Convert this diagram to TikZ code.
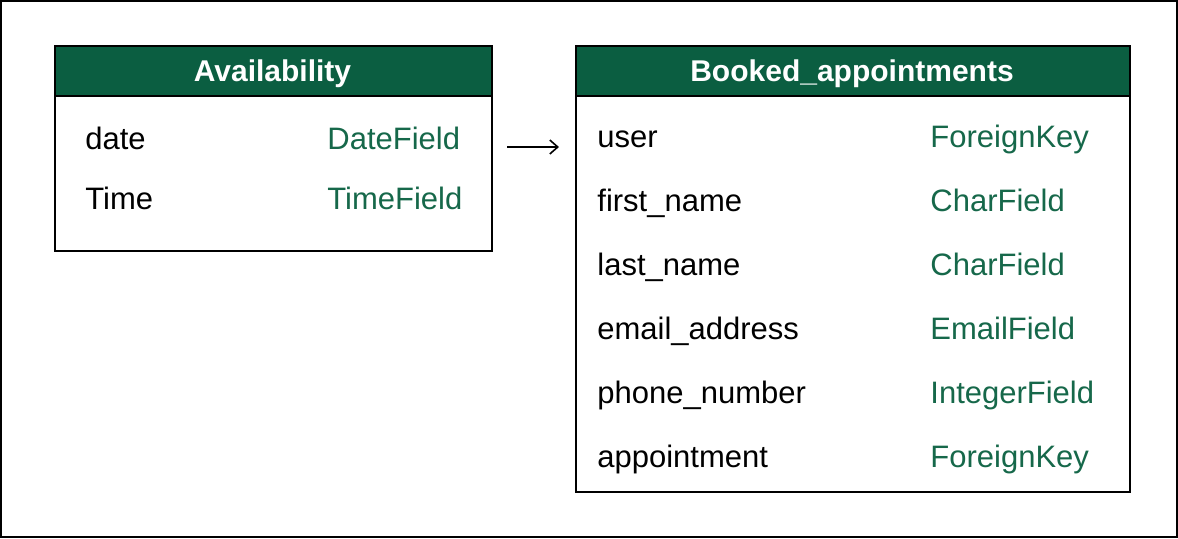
\documentclass[tikz,border=0pt]{standalone}
\usepackage{fontspec}
\setmainfont{Liberation Sans}
\usepackage{xcolor}
\usetikzlibrary{positioning, fit, arrows.meta}

\definecolor{headgreen}{HTML}{0B5E41}
\definecolor{typegreen}{HTML}{16684A}

\tikzset{
    tablebox/.style={draw, line width=1pt, anchor=north west, inner sep=0pt},
    tablehead/.style={draw, line width=1pt, fill=headgreen, anchor=north west, inner sep=0pt, minimum height=25pt},
    headtext/.style={text=white, font=\bfseries\fontsize{15}{18}\selectfont, anchor=base, inner sep=0pt},
    fieldname/.style={font=\fontsize{15.5}{18}\selectfont, anchor=base west, inner sep=0pt},
    fieldtype/.style={text=typegreen, font=\fontsize{15.5}{18}\selectfont, anchor=base west, inner sep=0pt}
}

\begin{document}
\begin{tikzpicture}[x=0.5pt, y=-0.5pt, >={Straight Barb[length=4pt, width=7pt]}]
    \useasboundingbox (0,0) rectangle (1178,538);
    % Outer frame
    \draw[line width=1.2pt] (1,1) rectangle (1177,537);

    % Availability table
    \node[tablebox, minimum width=218.5pt, minimum height=102.5pt] (availBox) at (54,45) {};
    \node[tablehead, minimum width=218.5pt] (availHead) at (54,45) {};
    \node[headtext] (availTitle) at (272.5,81) {Availability};
    \node[fieldname] (availDate) at (85,149) {date};
    \node[fieldtype] (availDateT) at (327,149) {DateField};
    \node[fieldname] (availTime) at (85,209) {Time};
    \node[fieldtype] (availTimeT) at (327,209) {TimeField};

    % Booked_appointments table
    \node[tablebox, minimum width=277pt, minimum height=223pt] (bookBox) at (575,45) {};
    \node[tablehead, minimum width=277pt] (bookHead) at (575,45) {};
    \node[headtext] (bookTitle) at (852,81) {Booked\_appointments};
    \node[fieldname] (bookUser) at (597,147) {user};
    \node[fieldtype] (bookUserT) at (930,147) {ForeignKey};
    \node[fieldname] (bookFirst) at (597,211) {first\_name};
    \node[fieldtype] (bookFirstT) at (930,211) {CharField};
    \node[fieldname] (bookLast) at (597,275) {last\_name};
    \node[fieldtype] (bookLastT) at (930,275) {CharField};
    \node[fieldname] (bookEmail) at (597,339) {email\_address};
    \node[fieldtype] (bookEmailT) at (930,339) {EmailField};
    \node[fieldname] (bookPhone) at (597,403) {phone\_number};
    \node[fieldtype] (bookPhoneT) at (930,403) {IntegerField};
    \node[fieldname] (bookAppt) at (597,467) {appointment};
    \node[fieldtype] (bookApptT) at (930,467) {ForeignKey};

    % Arrow between the tables
    \coordinate (arrowStart) at (507,147);
    \coordinate (arrowEnd) at (559,147);
    \draw[line width=0.8pt, ->] (arrowStart) -- (arrowEnd);
\end{tikzpicture}
\end{document}
